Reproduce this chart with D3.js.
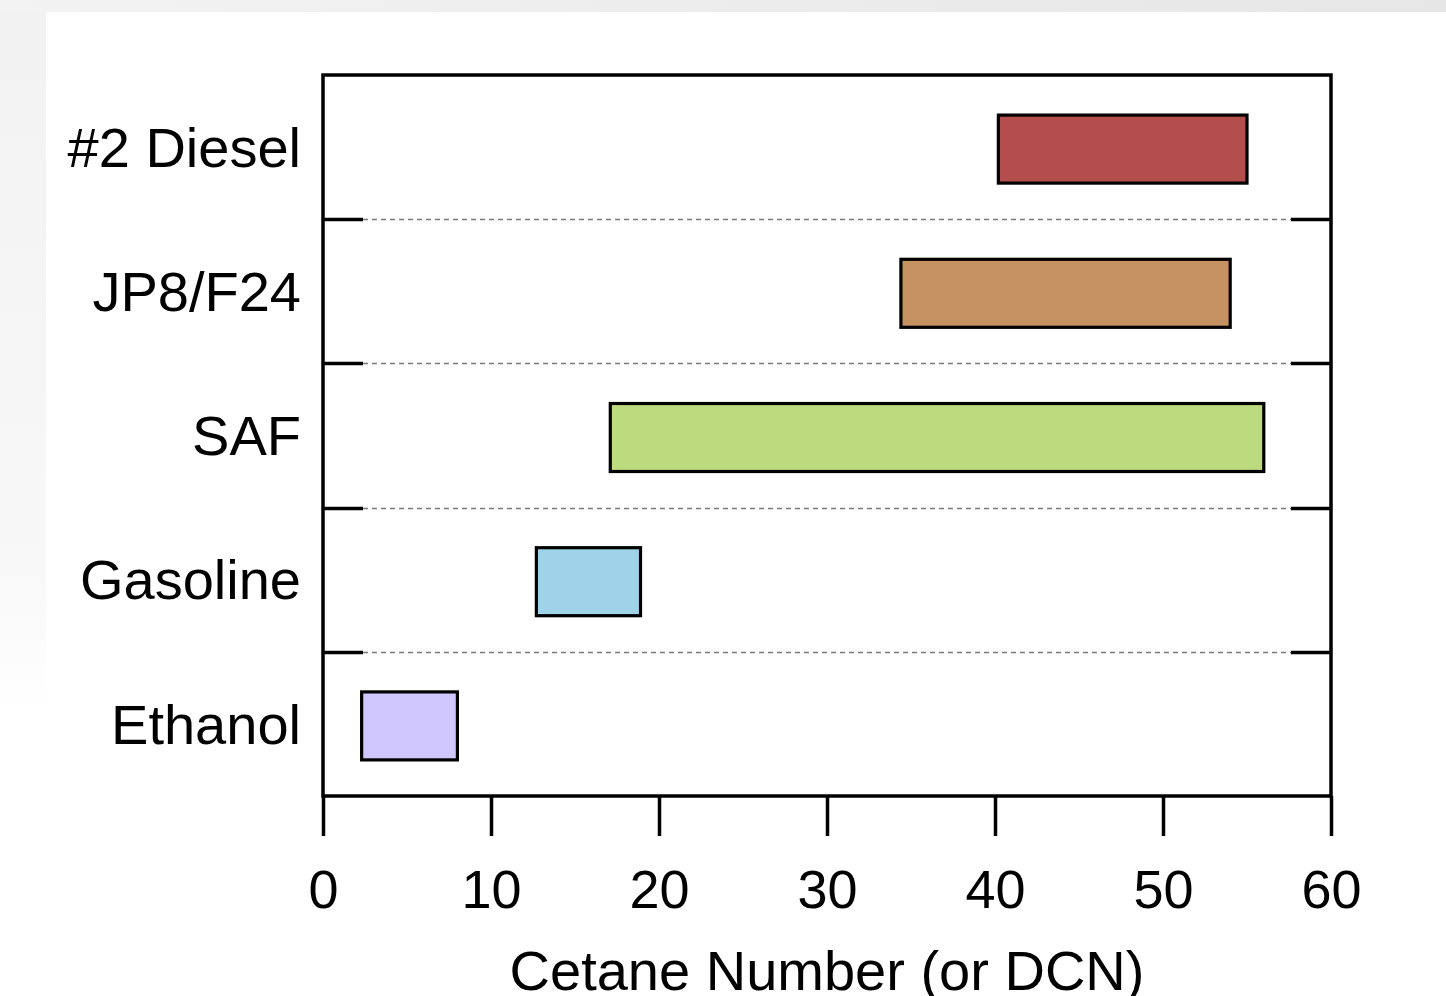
<!DOCTYPE html>
<html>
<head>
<meta charset="utf-8">
<script src="https://cdn.jsdelivr.net/npm/d3@7"></script>
<style>
  html, body { margin: 0; padding: 0; background: #ffffff; }
  svg { display: block; font-family: "Liberation Sans", Arial, sans-serif; }
</style>
</head>
<body>
<svg id="chart" width="1446" height="996"></svg>
<script>
const categories = ["#2 Diesel", "JP8/F24", "SAF", "Gasoline", "Ethanol"];
const lowValues = [40.2, 34.4, 17.1, 12.7, 2.3];
const highValues = [55, 54, 56, 18.9, 8];
const barColors = ["#b34e4d", "#c69261", "#bcdb7f", "#9fd3ea", "#cfc7fe"];
const xTicks = [0, 10, 20, 30, 40, 50, 60];
const xLabel = "Cetane Number (or DCN)";

(function () {
const svg = d3.select("#chart");
const W = 1446, H = 996;

// background framing (screenshot shading)
const defs = svg.append("defs");
const gTop = defs.append("linearGradient").attr("id", "gTop").attr("x1", 0).attr("x2", 1).attr("y1", 0).attr("y2", 0);
gTop.append("stop").attr("offset", "0%").attr("stop-color", "#f3f3f3");
gTop.append("stop").attr("offset", "100%").attr("stop-color", "#e6e6e6");
const gLeft = defs.append("linearGradient").attr("id", "gLeft").attr("x1", 0).attr("x2", 0).attr("y1", 0).attr("y2", 1);
gLeft.append("stop").attr("offset", "0%").attr("stop-color", "#f2f2f2");
gLeft.append("stop").attr("offset", "80%").attr("stop-color", "#f8f8f8");
gLeft.append("stop").attr("offset", "100%").attr("stop-color", "#ffffff");
svg.append("rect").attr("x", 0).attr("y", 0).attr("width", W).attr("height", H).attr("fill", "#ffffff");
svg.append("rect").attr("x", 0).attr("y", 0).attr("width", W).attr("height", 12).attr("fill", "url(#gTop)");
svg.append("rect").attr("x", 0).attr("y", 12).attr("width", 46).attr("height", 700).attr("fill", "url(#gLeft)");

const pLeft = 323, pRight = 1331, pTop = 75, pBottom = 796;

const x = d3.scaleLinear().domain([0, 60]).range([pLeft, pRight]);
const y = d3.scaleBand().domain(categories).range([pTop, pBottom]).paddingInner(0).paddingOuter(0);
const bw = y.bandwidth();
const barH = 68;

// band separators: dashed gridlines with solid inward ticks at both sides
const seps = categories.slice(1);
const sepG = svg.append("g");
seps.forEach(c => {
  const yy = Math.round(y(c)) + 0.5;
  sepG.append("line").attr("x1", pLeft + 40).attr("x2", pRight - 40).attr("y1", yy).attr("y2", yy)
    .attr("stroke", "#7a7a7a").attr("stroke-width", 1.3).attr("stroke-dasharray", "5,4");
  sepG.append("line").attr("x1", pLeft).attr("x2", pLeft + 40).attr("y1", yy).attr("y2", yy)
    .attr("stroke", "#000").attr("stroke-width", 3.5);
  sepG.append("line").attr("x1", pRight - 40).attr("x2", pRight).attr("y1", yy).attr("y2", yy)
    .attr("stroke", "#000").attr("stroke-width", 3.5);
});

// bars
svg.append("g").selectAll("rect").data(categories).join("rect")
  .attr("x", (d, i) => x(lowValues[i]))
  .attr("width", (d, i) => x(highValues[i]) - x(lowValues[i]))
  .attr("y", d => y(d) + bw / 2 - barH / 2 + 2)
  .attr("height", barH)
  .attr("fill", (d, i) => barColors[i])
  .attr("stroke", "#000").attr("stroke-width", 3.2);

// frame
svg.append("rect").attr("x", pLeft).attr("y", pTop).attr("width", pRight - pLeft).attr("height", pBottom - pTop)
  .attr("fill", "none").attr("stroke", "#000").attr("stroke-width", 3.5);

// x axis
const xAxis = d3.axisBottom(x).tickValues(xTicks).tickSize(40).tickPadding(34).tickFormat(d3.format("d"));
const xg = svg.append("g").attr("transform", `translate(0,${pBottom})`).call(xAxis);
xg.select(".domain").remove();
xg.selectAll(".tick line").attr("stroke", "#000").attr("stroke-width", 3.5);
xg.selectAll(".tick text").attr("fill", "#000").attr("font-size", 54).attr("font-family", "'Liberation Sans', Arial, sans-serif")
  .attr("dy", "0.71em");

// y labels
const yAxis = d3.axisLeft(y).tickSize(0).tickPadding(22);
const yg = svg.append("g").attr("transform", `translate(${pLeft},0)`).call(yAxis);
yg.select(".domain").remove();
yg.selectAll(".tick text").attr("fill", "#000").attr("font-size", 56).attr("font-family", "'Liberation Sans', Arial, sans-serif")
  .attr("dy", "0.35em");

// x axis label
svg.append("text").attr("x", (pLeft + pRight) / 2).attr("y", 990).attr("text-anchor", "middle")
  .attr("font-size", 56).attr("fill", "#000").text(xLabel);
})();
</script>
</body>
</html>
